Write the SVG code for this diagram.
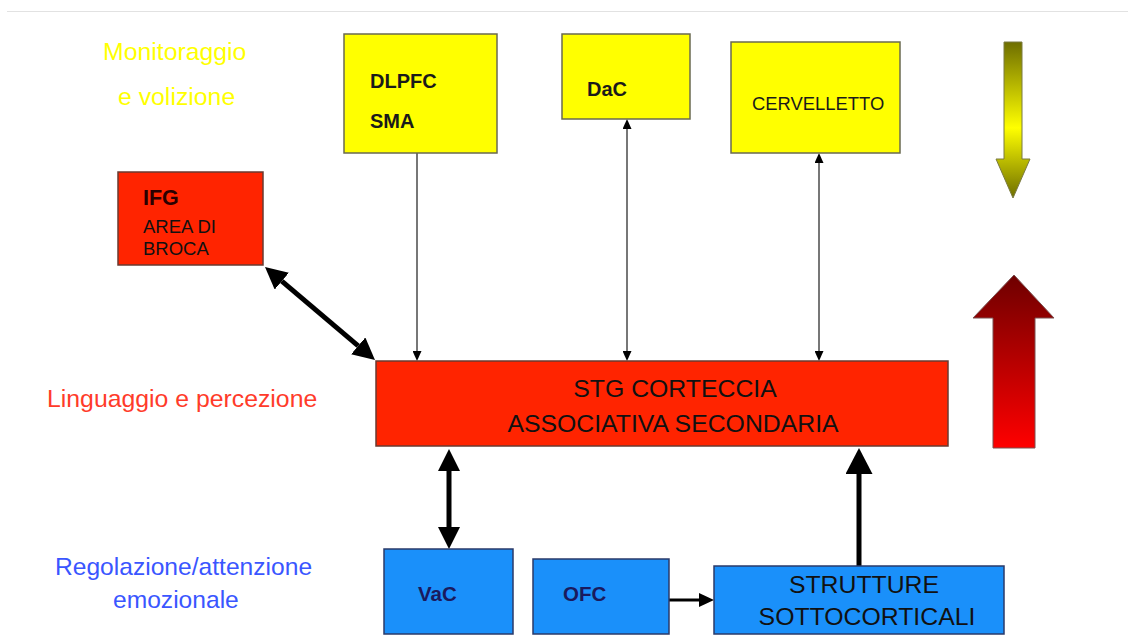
<svg xmlns="http://www.w3.org/2000/svg" width="1128" height="644" viewBox="0 0 1128 644">
<style>
  text { font-family: "Liberation Sans", Arial, sans-serif; }
  .yel { fill: #ffff00; stroke: #6a6a50; stroke-width: 1.5; }
  .red { fill: #ff2400; stroke: #6a3a30; stroke-width: 1.5; }
  .blu { fill: #1a90fa; stroke: #2a3a6a; stroke-width: 1.5; }
  .lbl { font-size: 20px; font-weight: bold; fill: #1a1a1a; }
  .big { font-size: 24.8px; fill: #111; text-anchor: middle; }
  .bl { font-size: 20.5px; font-weight: bold; fill: #1a1a5e; }
  .thin { stroke: #555; stroke-width: 1.6; fill: none; }
  .thick { stroke: #000; stroke-width: 5; fill: none; }
</style>
<defs>
  <marker id="ht" viewBox="0 0 10 9" refX="0" refY="4.5" markerWidth="10" markerHeight="9" markerUnits="userSpaceOnUse" orient="auto-start-reverse">
    <path d="M0,0 L10,4.5 L0,9 z" fill="#000"/>
  </marker>
  <marker id="hb" viewBox="0 0 22 22" refX="0" refY="11" markerWidth="22" markerHeight="22" markerUnits="userSpaceOnUse" orient="auto-start-reverse">
    <path d="M0,0 L22,11 L0,22 z" fill="#000"/>
  </marker>
  <marker id="hb2" viewBox="0 0 26 27" refX="0" refY="13.5" markerWidth="26" markerHeight="27" markerUnits="userSpaceOnUse" orient="auto-start-reverse">
    <path d="M0,0 L26,13.5 L0,27 z" fill="#000"/>
  </marker>
  <marker id="hs" viewBox="0 0 15 14" refX="0" refY="7" markerWidth="15" markerHeight="14" markerUnits="userSpaceOnUse" orient="auto-start-reverse">
    <path d="M0,0 L15,7 L0,14 z" fill="#000"/>
  </marker>
  <linearGradient id="gy" gradientUnits="userSpaceOnUse" x1="0" y1="42" x2="0" y2="198">
    <stop offset="0" stop-color="#6e6e00"/>
    <stop offset="0.55" stop-color="#ffff00"/>
    <stop offset="1" stop-color="#6e6e00"/>
  </linearGradient>
  <linearGradient id="gr" gradientUnits="userSpaceOnUse" x1="0" y1="275" x2="0" y2="448">
    <stop offset="0" stop-color="#6e0000"/>
    <stop offset="1" stop-color="#ff0000"/>
  </linearGradient>
</defs>

<rect x="0" y="0" width="1128" height="644" fill="#ffffff"/>
<line x1="7" y1="11.5" x2="1128" y2="11.5" stroke="#e2e2e2" stroke-width="1"/>

<g id="labels">
  <text x="103" y="60" font-size="24.8" fill="#ffff00">Monitoraggio</text>
  <text x="118" y="105" font-size="24.8" fill="#ffff00">e volizione</text>
  <text x="47" y="407" font-size="24.8" fill="#ff3b2a">Linguaggio e percezione</text>
  <text x="55" y="575" font-size="24.6" fill="#3a56ff">Regolazione/attenzione</text>
  <text x="113" y="608" font-size="24.6" fill="#3a56ff">emozionale</text>
</g>

<g id="connectors">
  <line class="thin" x1="417" y1="153" x2="417" y2="351" marker-end="url(#ht)"/>
  <line class="thin" x1="627" y1="129" x2="627" y2="351" marker-start="url(#ht)" marker-end="url(#ht)"/>
  <line class="thin" x1="819" y1="163" x2="819" y2="351" marker-start="url(#ht)" marker-end="url(#ht)"/>
  <line class="thick" x1="281.8" y1="281.2" x2="358.2" y2="345.8" marker-start="url(#hb)" marker-end="url(#hb)"/>
  <line class="thick" x1="449" y1="471" x2="449" y2="527" marker-start="url(#hb)" marker-end="url(#hb)"/>
  <line class="thick" x1="859" y1="566" x2="859" y2="474" marker-end="url(#hb2)"/>
  <line stroke="#000" stroke-width="3" x1="669" y1="600" x2="699" y2="600" marker-end="url(#hs)"/>
</g>

<g id="dlpfc">
  <rect class="yel" x="344" y="34" width="153" height="119"/>
  <text class="lbl" x="370" y="88">DLPFC</text>
  <text class="lbl" x="370" y="128">SMA</text>
</g>
<g id="dac">
  <rect class="yel" x="562" y="34" width="128" height="85"/>
  <text class="lbl" x="587" y="96">DaC</text>
</g>
<g id="cervelletto">
  <rect class="yel" x="731" y="42" width="169" height="111"/>
  <text x="752" y="110" font-size="18.4" fill="#1a1a1a">CERVELLETTO</text>
</g>
<g id="ifg">
  <rect class="red" x="118" y="172" width="145" height="93"/>
  <text x="143" y="205" font-size="21.5" font-weight="bold" fill="#2a0000">IFG</text>
  <text x="143" y="233" font-size="18.5" fill="#111">AREA DI</text>
  <text x="143" y="255" font-size="18.5" fill="#111">BROCA</text>
</g>
<g id="stg">
  <rect class="red" x="376" y="361" width="572" height="85"/>
  <text class="big" x="675" y="397">STG CORTECCIA</text>
  <text class="big" x="673" y="432">ASSOCIATIVA SECONDARIA</text>
</g>
<g id="vac">
  <rect class="blu" x="384" y="549" width="129" height="85"/>
  <text class="bl" x="418" y="601">VaC</text>
</g>
<g id="ofc">
  <rect class="blu" x="533" y="559" width="136" height="75"/>
  <text class="bl" x="563" y="601">OFC</text>
</g>
<g id="strutture">
  <rect class="blu" x="714" y="566" width="290" height="68"/>
  <text class="big" x="864" y="593">STRUTTURE</text>
  <text class="big" x="867" y="625">SOTTOCORTICALI</text>
</g>

<g id="arrow-down">
  <polygon points="1004,42 1022,42 1022,159 1030,159 1013,198 996,159 1004,159" fill="url(#gy)" stroke="#7a7a40" stroke-width="1"/>
</g>
<g id="arrow-up">
  <polygon points="993,448 1035,448 1035,318 1054,318 1014,275 973,318 993,318" fill="url(#gr)" stroke="#7a5050" stroke-width="1"/>
</g>
</svg>
